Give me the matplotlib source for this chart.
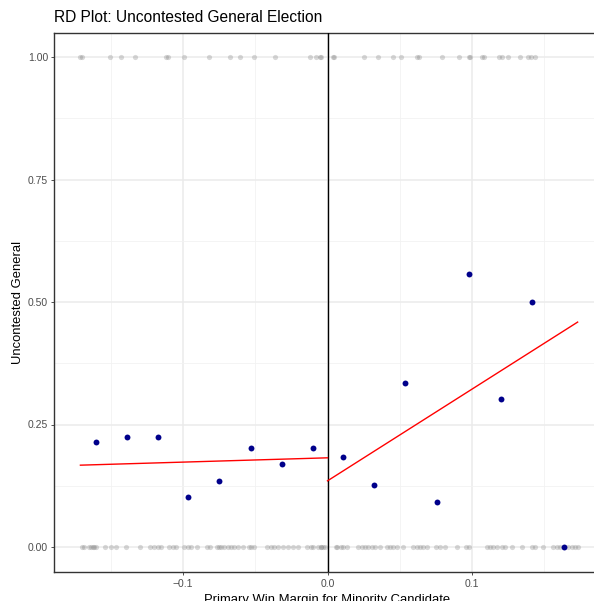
import matplotlib
matplotlib.use("Agg")
import matplotlib.pyplot as plt
import numpy as np

plt.rcParams['font.family'] = ['Liberation Sans', 'DejaVu Sans']

# raw observations (x margin) with outcome 1
raw_x_top = [-0.1710, -0.1697, -0.1503, -0.1428, -0.1331, -0.1117, -0.1103, -0.0993,
             -0.0821, -0.0676, -0.0607, -0.0510, -0.0366, -0.0124, -0.0083, -0.0055,
             -0.0048, 0.0041, 0.0048, 0.0255, 0.0352, 0.0455, 0.0510, 0.0621, 0.0634,
             0.0793, 0.0910, 0.0979, 0.0986, 0.1069, 0.1083, 0.1186, 0.1207, 0.1248,
             0.1331, 0.1386, 0.1407, 0.1434]
# raw observations with outcome 0
raw_x_bottom = [-0.1697, -0.1683, -0.1648, -0.1634, -0.1621, -0.1614, -0.1600, -0.1538,
                -0.1497, -0.1462, -0.1393, -0.1297, -0.1228, -0.1200, -0.1172, -0.1152,
                -0.1097, -0.1069, -0.1048, -0.0993, -0.0966, -0.0945, -0.0903, -0.0834,
                -0.0814, -0.0766, -0.0752, -0.0738, -0.0717, -0.0690, -0.0669, -0.0648,
                -0.0621, -0.0586, -0.0545, -0.0531, -0.0510, -0.0421, -0.0393, -0.0372,
                -0.0345, -0.0310, -0.0276, -0.0241, -0.0207, -0.0145, -0.0117, -0.0097,
                -0.0069, -0.0048, -0.0014, 0.0069, -0.0048, -0.0028, 0.0062, 0.0090,
                0.0110, 0.0138, 0.0214, 0.0241, 0.0262, 0.0283, 0.0310, 0.0331, 0.0366,
                0.0410, 0.0434, 0.0455, 0.0483, 0.0524, 0.0593, 0.0621, 0.0641, 0.0662,
                0.0690, 0.0752, 0.0779, 0.0814, 0.0897, 0.0959, 0.0979, 0.1103, 0.1124,
                0.1145, 0.1172, 0.1207, 0.1228, 0.1276, 0.1345, 0.1414, 0.1434, 0.1490,
                0.1559, 0.1586, 0.1607, 0.1662, 0.1690, 0.1710, 0.1731]

# binned means
bin_x = [-0.1600, -0.1386, -0.1172, -0.0966, -0.0752, -0.0531, -0.0317, -0.0103,
         0.0110, 0.0324, 0.0538, 0.0759, 0.0979, 0.1200, 0.1414, 0.1634]
bin_y = [0.214, 0.224, 0.224, 0.102, 0.135, 0.202, 0.169, 0.202,
         0.184, 0.127, 0.335, 0.092, 0.557, 0.302, 0.500, 0.000]

# fitted lines
left_fit_x = [-0.1710, 0.0]
left_fit_y = [0.167, 0.182]
right_fit_x = [0.0, 0.1731]
right_fit_y = [0.135, 0.459]

W, H = 594, 601
fig = plt.figure(figsize=(W/100, H/100), dpi=100)
pl, pr, pt, pb = 54, 600, 32.5, 571.5
ax = fig.add_axes([pl/W, 1 - pb/H, (pr-pl)/W, (pb-pt)/H])

ax.set_xlim((pl-327.5)/1445, (pr-327.5)/1445)
ax.set_ylim(-0.05, 1.05)

# grid
for v in [-0.15, -0.05, 0.05, 0.15]:
    ax.axvline(v, color='#f2f2f2', lw=0.6, zorder=0)
for v in [-0.1, 0.0, 0.1]:
    ax.axvline(v, color='#ebebeb', lw=1.1, zorder=0)
for v in [0.125, 0.375, 0.625, 0.875]:
    ax.axhline(v, color='#f2f2f2', lw=0.6, zorder=0)
for v in [0.0, 0.25, 0.5, 0.75, 1.0]:
    ax.axhline(v, color='#ebebeb', lw=1.1, zorder=0)

ax.scatter(raw_x_top, [1.0]*len(raw_x_top), s=14, color='gray', alpha=0.3, lw=0, zorder=2)
ax.scatter(raw_x_bottom, [0.0]*len(raw_x_bottom), s=14, color='gray', alpha=0.3, lw=0, zorder=2)

ax.axvline(0, color='black', lw=1.0, zorder=3)

ax.plot(left_fit_x, left_fit_y, color='red', lw=1.0, zorder=4)
ax.plot(right_fit_x, right_fit_y, color='red', lw=1.0, zorder=4)

ax.scatter(bin_x, bin_y, s=18, color='darkblue', lw=0, zorder=5)

ax.set_xticks([-0.1, 0.0, 0.1])
ax.set_xticklabels(['\u22120.1', '0.0', '0.1'])
ax.set_yticks([0.0, 0.25, 0.5, 0.75, 1.0])
ax.set_yticklabels(['0.00', '0.25', '0.50', '0.75', '1.00'])
ax.tick_params(axis='both', labelsize=7.5, labelcolor='#4d4d4d', color='#333333',
               length=2.3, width=0.6, pad=1.9)
ax.tick_params(axis='x', pad=3.0)

for s in ['top', 'right', 'left', 'bottom']:
    ax.spines[s].set_color('#333333')
    ax.spines[s].set_linewidth(1.0)

ax.set_xlabel('Primary Win Margin for Minority Candidate', fontsize=9.4, labelpad=3.5)
ax.set_ylabel('Uncontested General', fontsize=9.4, labelpad=3)
fig.text(pl/W, 1 - 17/H, 'RD Plot: Uncontested General Election', fontsize=11.2, va='center', ha='left')

fig.savefig('out.png', dpi=100)
